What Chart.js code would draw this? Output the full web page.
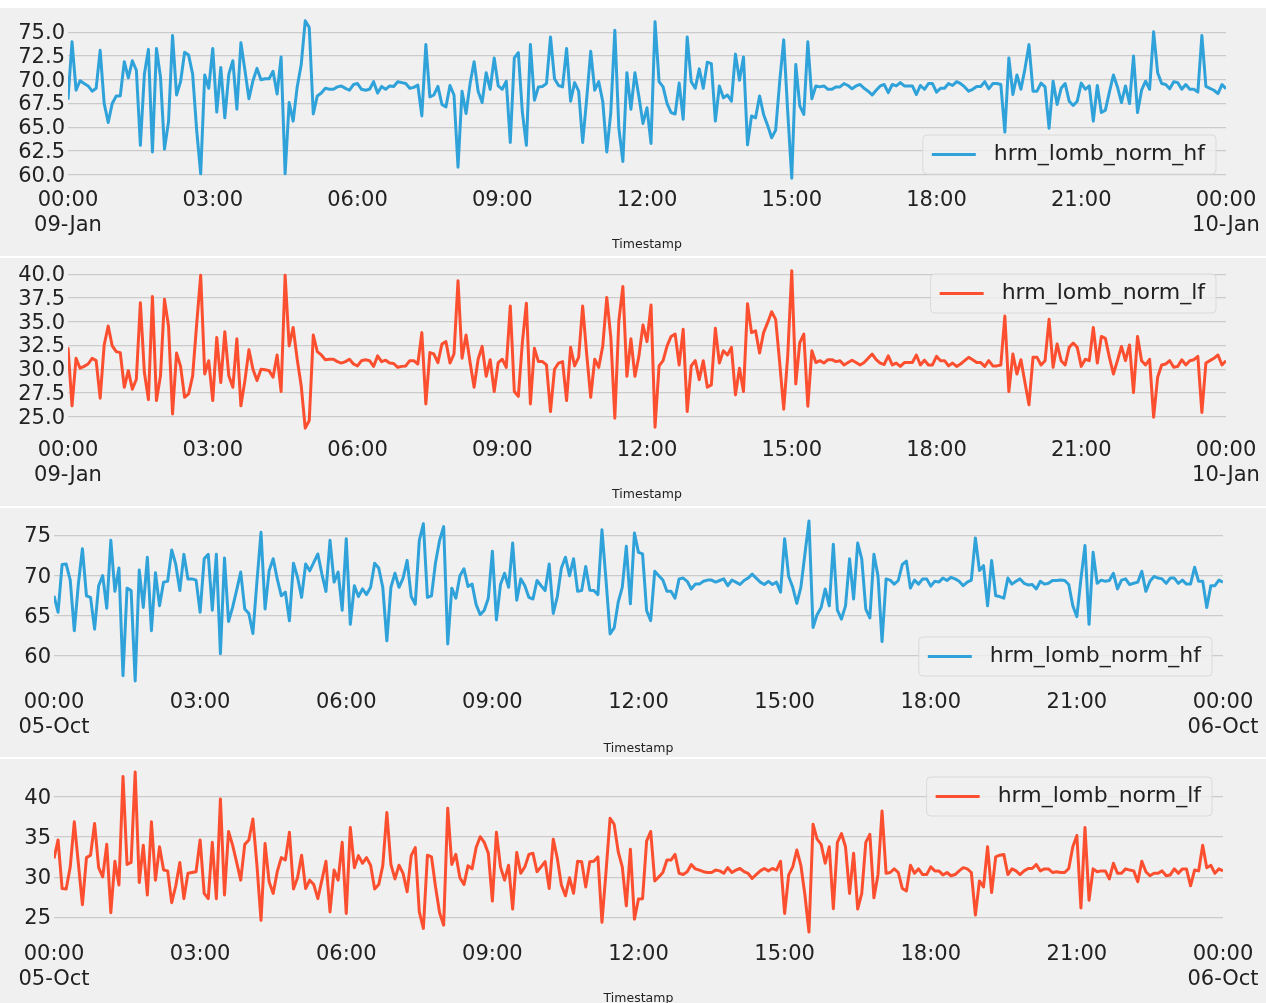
<!DOCTYPE html>
<html>
<head>
<meta charset="utf-8">
<script src="https://cdn.jsdelivr.net/npm/chart.js@4.4.1/dist/chart.umd.min.js"></script>
<style>
  html, body { margin: 0; padding: 0; background: #ffffff; }
  body { width: 1266px; height: 1003px; overflow: hidden; position: relative; }
  .panel { position: absolute; left: 0; width: 1266px; background: #f0f0f0; }
  canvas { display: block; }
</style>
</head>
<body>
<div class="panel" style="top:8px;height:248px"><canvas id="c1" width="1266" height="248"></canvas></div>
<div class="panel" style="top:258px;height:248px"><canvas id="c2" width="1266" height="248"></canvas></div>
<div class="panel" style="top:508px;height:249px"><canvas id="c3" width="1266" height="249"></canvas></div>
<div class="panel" style="top:759px;height:249px"><canvas id="c4" width="1266" height="249"></canvas></div>
<script>
// Normalised Lomb HF / LF power, one sample every 5 minutes from 00:00 to 00:00 next day
const hfJan = [
  67.9, 74.0, 68.9, 69.9, 69.6, 69.35, 68.8, 69.1, 73.1, 67.5,
  65.5, 67.5, 68.3, 68.3, 71.9, 70.2, 72.0, 71.0, 63.1, 70.6,
  73.2, 62.4, 73.3, 70.3, 62.7, 65.6, 74.65, 68.4, 69.8, 72.9,
  72.6, 70.6, 64.7, 60.1, 70.5, 69.1, 73.3, 66.6, 71.3, 66.0,
  70.6, 72.0, 66.9, 73.9, 71.0, 68.0, 69.9, 71.2, 70.0, 70.1,
  70.1, 70.9, 68.5, 72.4, 60.1, 67.6, 65.65, 69.25, 71.6, 76.2,
  75.5, 66.4, 68.3, 68.6, 69.1, 69.0, 69.0, 69.25, 69.35, 69.1,
  68.9, 69.5, 69.6, 69.0, 68.9, 69.0, 69.8, 68.6, 69.3, 69.0,
  69.35, 69.3, 69.8, 69.7, 69.6, 69.1, 69.2, 69.45, 66.2, 73.7,
  68.2, 68.4, 69.3, 67.4, 67.15, 69.4, 68.4, 60.8, 68.8, 66.45,
  69.6, 71.9, 68.8, 67.6, 70.75, 69.0, 72.3, 69.35, 69.0, 69.85,
  63.4, 72.3, 72.85, 66.6, 63.1, 73.7, 67.85, 69.25, 69.3, 69.6,
  74.5, 70.1, 69.4, 69.25, 73.3, 67.75, 69.7, 68.8, 63.4, 68.0,
  73.0, 68.9, 69.8, 67.7, 62.4, 66.6, 75.2, 64.9, 61.4, 70.75,
  66.9, 70.75, 68.2, 65.4, 67.05, 63.3, 76.1, 69.8, 69.25, 67.5,
  66.55, 66.4, 69.65, 65.85, 74.5, 69.8, 69.1, 71.15, 69.1, 71.85,
  71.7, 65.65, 69.35, 68.1, 68.4, 67.75, 72.7, 69.95, 72.4, 63.15,
  66.2, 66.0, 68.3, 66.35, 65.2, 63.9, 64.7, 69.8, 74.2, 66.6,
  59.65, 71.6, 67.25, 66.35, 74.0, 68.0, 69.35, 69.25, 69.35, 69.0,
  69.0, 69.25, 69.25, 69.6, 69.4, 69.05, 69.35, 69.5, 69.1, 68.8,
  68.4, 68.9, 69.35, 69.5, 68.65, 69.5, 69.35, 69.7, 69.35, 69.35,
  69.35, 68.45, 69.4, 69.0, 69.6, 69.6, 68.7, 69.1, 69.1, 69.6,
  69.4, 69.8, 69.6, 69.25, 68.8, 69.0, 69.3, 69.3, 69.8, 69.05,
  69.6, 69.6, 69.5, 64.5, 72.3, 68.45, 70.5, 69.0, 71.15, 73.7,
  68.8, 68.8, 69.65, 69.25, 64.9, 69.85, 67.4, 69.1, 69.6, 67.75,
  67.3, 67.75, 69.65, 69.0, 69.35, 65.65, 69.4, 66.55, 66.8, 68.7,
  70.5, 69.25, 67.6, 69.35, 67.5, 72.5, 66.55, 68.9, 69.85, 69.0,
  75.05, 70.75, 69.6, 69.5, 69.05, 69.8, 69.7, 69.0, 69.5, 69.0,
  69.0, 68.7, 74.65, 69.3, 69.1, 68.9, 68.55, 69.5, 69.05
];
const lfJan = [
  32.3, 26.15, 31.15, 30.1, 30.3, 30.55, 31.15, 30.9, 26.95, 32.55,
  34.55, 32.45, 31.85, 31.75, 28.1, 29.85, 27.9, 28.95, 37.0, 29.65,
  26.8, 37.65, 26.7, 29.3, 37.35, 34.55, 25.3, 31.7, 30.3, 27.05,
  27.4, 29.3, 34.75, 39.9, 29.5, 30.9, 26.7, 33.35, 28.6, 33.95,
  29.3, 28.1, 33.2, 26.15, 28.8, 32.05, 30.0, 28.8, 30.0, 29.95,
  29.85, 29.15, 31.5, 27.65, 39.9, 32.45, 34.4, 31.05, 28.25, 23.8,
  24.6, 33.6, 31.85, 31.5, 31.0, 31.05, 31.05, 30.8, 30.65, 30.8,
  31.05, 30.55, 30.35, 30.9, 31.0, 30.9, 30.3, 31.4, 30.8, 30.95,
  30.65, 30.6, 30.2, 30.3, 30.35, 30.9, 30.9, 30.55, 33.85, 26.35,
  31.75, 31.6, 30.7, 32.65, 32.9, 30.65, 31.6, 39.3, 31.15, 33.6,
  30.7, 28.1, 31.05, 32.4, 29.25, 31.0, 27.65, 30.7, 31.05, 30.2,
  36.65, 27.65, 27.15, 32.8, 36.95, 26.35, 32.2, 30.8, 30.8, 30.45,
  25.55, 30.0, 30.65, 30.8, 26.7, 32.3, 30.35, 31.25, 36.65, 31.6,
  27.05, 31.05, 30.2, 32.45, 37.55, 33.35, 24.85, 35.1, 38.7, 29.25,
  33.2, 29.25, 31.4, 34.65, 32.9, 36.75, 23.9, 30.35, 30.9, 32.45,
  33.45, 33.7, 30.45, 34.2, 25.55, 30.35, 30.9, 28.9, 30.9, 28.1,
  28.35, 34.3, 30.65, 31.95, 31.5, 32.3, 27.3, 30.1, 27.65, 36.9,
  33.85, 34.05, 31.7, 33.85, 34.9, 36.05, 35.25, 30.7, 25.8, 31.4,
  40.35, 28.45, 32.8, 33.7, 26.1, 31.95, 30.7, 30.9, 30.65, 31.0,
  31.0, 30.8, 30.9, 30.45, 30.7, 30.95, 30.7, 30.45, 30.7, 31.15,
  31.6, 31.0, 30.65, 30.5, 31.4, 30.45, 30.65, 30.3, 30.7, 30.7,
  30.7, 31.5, 30.45, 30.95, 30.45, 30.45, 31.35, 30.9, 30.9, 30.35,
  30.65, 30.3, 30.55, 30.9, 31.25, 31.0, 30.7, 30.7, 30.3, 30.9,
  30.35, 30.35, 30.45, 35.6, 27.65, 31.6, 29.5, 31.0, 28.6, 26.25,
  31.25, 31.25, 30.45, 30.9, 35.25, 30.2, 32.65, 30.9, 30.45, 32.3,
  32.75, 32.3, 30.3, 31.05, 30.9, 34.4, 30.65, 33.45, 33.25, 31.25,
  29.5, 30.9, 32.4, 30.9, 32.55, 27.55, 33.45, 30.9, 30.45, 31.05,
  24.95, 29.15, 30.45, 30.55, 30.9, 30.2, 30.3, 31.0, 30.45, 30.9,
  31.0, 31.35, 25.45, 30.65, 30.9, 31.15, 31.5, 30.45, 30.9
];
const hfOct = [
  67.5, 65.45, 71.4, 71.45, 69.45, 63.15, 68.95, 73.35, 67.5, 67.3,
  63.35, 68.75, 70.0, 65.95, 74.4, 68.05, 70.95, 57.55, 68.45, 68.15,
  56.9, 70.7, 66.05, 72.3, 63.15, 70.35, 66.25, 69.2, 69.3, 73.2,
  71.4, 68.15, 72.65, 69.6, 69.6, 69.45, 65.45, 72.1, 72.65, 65.7,
  72.65, 60.3, 72.2, 64.3, 66.05, 68.2, 70.45, 65.85, 65.3, 62.8,
  69.3, 75.4, 65.85, 70.6, 72.1, 69.6, 67.5, 67.95, 64.4, 71.55,
  69.8, 67.3, 71.45, 70.6, 71.65, 72.7, 70.2, 68.05, 74.4, 69.2,
  70.45, 65.7, 74.6, 63.95, 68.75, 67.4, 68.35, 67.65, 68.55, 71.55,
  70.95, 68.55, 61.9, 68.55, 70.3, 68.55, 69.7, 71.9, 67.4, 66.45,
  74.4, 76.45, 67.3, 67.5, 71.65, 74.4, 76.1, 61.5, 68.45, 67.2,
  70.0, 70.85, 68.65, 68.95, 66.4, 65.15, 65.7, 67.2, 73.05, 64.5,
  68.9, 70.3, 68.55, 74.05, 66.95, 69.6, 68.75, 67.3, 67.1, 69.4,
  68.75, 68.15, 71.45, 65.3, 67.4, 70.95, 72.3, 70.0, 72.1, 68.05,
  68.15, 71.15, 68.2, 68.15, 67.65, 75.7, 69.45, 62.75, 63.5, 66.7,
  68.55, 73.65, 66.5, 75.3, 72.9, 72.7, 65.65, 64.4, 70.55, 70.0,
  69.45, 68.05, 68.05, 67.2, 69.6, 69.7, 69.3, 68.35, 68.95, 68.95,
  69.3, 69.45, 69.45, 69.2, 69.4, 69.6, 68.75, 69.45, 69.2, 68.9,
  69.4, 69.7, 70.2, 69.7, 69.2, 68.9, 69.3, 68.9, 69.2, 67.95,
  74.6, 69.9, 68.55, 66.55, 68.55, 72.7, 76.8, 63.55, 65.15, 66.05,
  68.35, 66.25, 73.9, 65.7, 64.6, 66.25, 72.1, 67.1, 74.05, 72.1,
  65.85, 64.75, 72.65, 70.0, 61.8, 69.6, 69.45, 68.95, 69.4, 71.4,
  71.8, 68.45, 69.45, 68.95, 69.6, 69.6, 68.7, 69.3, 69.2, 69.7,
  69.4, 69.8, 69.6, 69.3, 68.75, 69.2, 69.45, 74.7, 70.65, 71.25,
  66.25, 71.9, 67.5, 67.4, 67.2, 69.7, 68.95, 69.3, 69.6, 69.05,
  68.85, 68.9, 68.35, 69.3, 68.95, 69.05, 69.4, 69.4, 69.45, 69.4,
  68.9, 66.25, 64.9, 69.6, 73.75, 63.95, 72.9, 69.05, 69.45, 69.3,
  69.4, 70.3, 68.35, 69.45, 69.6, 68.9, 69.05, 69.2, 70.55, 68.05,
  69.3, 69.9, 69.7, 69.6, 69.05, 69.7, 69.7, 69.05, 69.45, 68.95,
  68.95, 71.05, 69.3, 69.3, 66.05, 68.75, 68.75, 69.45, 69.2
];
const lfOct = [
  32.35, 34.65, 28.6, 28.55, 31.3, 36.9, 31.75, 26.6, 32.45, 32.75,
  36.7, 31.2, 30.05, 34.1, 25.6, 32.0, 29.05, 42.55, 31.6, 31.85,
  43.1, 29.35, 34.0, 27.8, 36.9, 29.65, 33.8, 30.9, 30.8, 26.85,
  28.95, 31.85, 27.35, 30.5, 30.6, 30.7, 34.65, 28.0, 27.35, 34.35,
  27.35, 39.75, 27.8, 35.7, 34.0, 31.85, 29.65, 34.1, 34.65, 37.25,
  31.5, 24.65, 34.2, 29.45, 28.0, 30.7, 32.45, 32.15, 35.6, 28.55,
  29.95, 32.75, 28.6, 29.65, 29.1, 27.35, 29.65, 32.0, 25.7, 30.9,
  29.65, 34.35, 25.5, 36.2, 31.2, 32.7, 31.75, 32.45, 31.5, 28.55,
  29.1, 31.45, 38.05, 31.6, 29.8, 31.5, 30.5, 28.2, 32.7, 33.7,
  25.7, 23.65, 32.75, 32.55, 28.8, 25.6, 24.05, 38.6, 31.6, 32.85,
  29.95, 29.1, 31.45, 31.05, 33.7, 35.05, 34.35, 33.0, 27.05, 35.6,
  31.3, 29.65, 31.5, 26.05, 33.1, 30.5, 31.3, 32.85, 33.0, 30.7,
  31.3, 31.95, 28.6, 34.75, 32.35, 29.05, 27.7, 29.95, 28.0, 32.0,
  31.95, 28.8, 31.95, 32.0, 32.55, 24.4, 30.7, 37.35, 36.6, 33.2,
  31.3, 26.45, 33.5, 24.8, 27.3, 27.35, 34.5, 35.7, 29.55, 30.05,
  30.6, 32.15, 32.15, 32.85, 30.5, 30.35, 30.7, 31.6, 31.05, 30.9,
  30.7, 30.6, 30.6, 30.9, 30.8, 30.5, 31.2, 30.6, 30.9, 31.1,
  30.7, 30.5, 29.85, 30.35, 30.8, 31.1, 30.8, 31.1, 30.9, 32.0,
  25.5, 30.3, 31.3, 33.4, 31.5, 27.8, 23.2, 36.6, 34.75, 34.1,
  31.75, 33.8, 26.1, 34.35, 35.45, 33.8, 28.0, 33.0, 26.05, 28.0,
  34.35, 35.35, 27.45, 30.3, 38.25, 30.5, 30.6, 31.05, 30.6, 28.6,
  28.3, 31.5, 30.5, 31.05, 30.35, 30.35, 31.3, 30.8, 30.8, 30.3,
  30.6, 30.2, 30.35, 30.8, 31.2, 31.05, 30.6, 25.3, 29.55, 28.8,
  33.8, 28.1, 32.55, 32.75, 32.85, 30.35, 31.05, 30.8, 30.35, 30.8,
  31.1, 31.1, 31.6, 30.8, 31.05, 31.05, 30.6, 30.7, 30.6, 30.6,
  31.1, 33.8, 35.2, 26.2, 36.2, 27.15, 31.05, 30.7, 30.8, 30.8,
  29.8, 31.75, 30.5, 30.5, 31.05, 30.9, 30.8, 29.45, 32.0, 30.7,
  30.2, 30.5, 30.5, 30.8, 30.2, 30.3, 31.05, 30.5, 31.05, 31.05,
  28.95, 30.9, 30.8, 34.0, 31.2, 31.5, 30.5, 31.05, 30.8
];

// Axis ticks
const sampleMinutes = 5;
const xTickMinutes = [0, 180, 360, 540, 720, 900, 1080, 1260, 1440];
const xTickLabels = ['00:00', '03:00', '06:00', '09:00', '12:00', '15:00', '18:00', '21:00', '00:00'];
const janDates = ['09-Jan', '10-Jan'];
const octDates = ['05-Oct', '06-Oct'];
const yTicksHfJan = [60, 62.5, 65, 67.5, 70, 72.5, 75];
const yTicksLfJan = [25, 27.5, 30, 32.5, 35, 37.5, 40];
const yTicksHfOct = [60, 65, 70, 75];
const yTicksLfOct = [25, 30, 35, 40];

const HF_COLOR = '#30a2da';
const LF_COLOR = '#fc4f30';
const TEXT = '#222222';
const FONT = "'DejaVu Sans', 'Liberation Sans', sans-serif";

Chart.defaults.font.family = FONT;
Chart.defaults.color = TEXT;

// Legend box drawn inside the plot area, matplotlib style
const insideLegend = {
  id: 'insideLegend',
  afterDraw(chart, args, opts) {
    const ds = chart.data.datasets[0];
    const ctx = chart.ctx;
    ctx.save();
    ctx.font = '22px ' + FONT;
    const tw = ctx.measureText(ds.label).width;
    const w = 71 + tw + 11;
    const h = opts.height;
    const x = opts.right - w;
    const y = opts.top;
    const r = 4;
    ctx.beginPath();
    ctx.moveTo(x + r, y);
    ctx.arcTo(x + w, y, x + w, y + h, r);
    ctx.arcTo(x + w, y + h, x, y + h, r);
    ctx.arcTo(x, y + h, x, y, r);
    ctx.arcTo(x, y, x + w, y, r);
    ctx.closePath();
    ctx.fillStyle = 'rgba(240,240,240,0.8)';
    ctx.fill();
    ctx.strokeStyle = '#d9d9d9';
    ctx.lineWidth = 1;
    ctx.stroke();
    const cy = y + h / 2;
    ctx.beginPath();
    ctx.moveTo(x + 9, cy);
    ctx.lineTo(x + 53, cy);
    ctx.strokeStyle = ds.borderColor;
    ctx.lineWidth = 3;
    ctx.stroke();
    ctx.fillStyle = TEXT;
    ctx.textBaseline = 'middle';
    ctx.textAlign = 'left';
    ctx.fillText(ds.label, x + 71, cy);
    ctx.restore();
  }
};

function makePanel(id, values, label, color, yTicks, decimals, dates, geo) {
  const lo = Math.min(...values), hi = Math.max(...values);
  const margin = (hi - lo) * 0.05;
  const canvas = document.getElementById(id);
  return new Chart(canvas, {
    type: 'line',
    data: {
      datasets: [{
        label: label,
        data: values.map((v, i) => ({ x: i * sampleMinutes, y: v })),
        borderColor: color,
        backgroundColor: color,
        borderWidth: 3,
        borderJoinStyle: 'round',
        borderCapStyle: 'butt',
        pointRadius: 0,
        tension: 0,
        fill: false
      }]
    },
    options: {
      responsive: false,
      animation: false,
      devicePixelRatio: 1,
      events: [],
      layout: { padding: { top: geo.top, right: canvas.width - geo.right, bottom: 0, left: 0 } },
      plugins: {
        legend: { display: false },
        tooltip: { enabled: false },
        insideLegend: geo.legend
      },
      scales: {
        x: {
          type: 'linear',
          min: 0,
          max: 1440,
          grid: { display: false, drawTicks: false },
          border: { display: false },
          afterBuildTicks: s => { s.ticks = xTickMinutes.map(v => ({ value: v })); },
          afterFit: s => { s.height = canvas.height - geo.bottom; s.paddingLeft = 0; s.paddingRight = 0; },
          ticks: {
            autoSkip: false,
            maxRotation: 0,
            padding: geo.tickPad,
            font: { size: 21, lineHeight: 1.2 },
            color: TEXT,
            callback: (v) => {
              const k = xTickMinutes.indexOf(v);
              if (k === 0) return [xTickLabels[k], dates[0]];
              if (k === xTickMinutes.length - 1) return [xTickLabels[k], dates[1]];
              return xTickLabels[k];
            }
          },
          title: {
            display: true,
            text: 'Timestamp',
            font: { size: 12.5 },
            color: TEXT,
            padding: { top: 0, bottom: geo.titlePad }
          }
        },
        y: {
          min: lo - margin,
          max: hi + margin,
          grid: { color: '#cbcbcb', lineWidth: 1.3, drawTicks: false },
          border: { display: false },
          afterBuildTicks: s => { s.ticks = yTicks.map(v => ({ value: v })); },
          afterFit: s => { s.width = geo.left; s.paddingTop = 0; s.paddingBottom = 0; },
          ticks: {
            autoSkip: false,
            padding: 3,
            labelOffset: 1.5,
            font: { size: 21 },
            color: TEXT,
            callback: v => v.toFixed(decimals)
          }
        }
      }
    },
    plugins: [insideLegend]
  });
}

makePanel('c1', hfJan, 'hrm_lomb_norm_hf', HF_COLOR, yTicksHfJan, 1, janDates,
  { left: 68, right: 1226, top: 5, bottom: 178, tickPad: 2, titlePad: 3.5,
    legend: { right: 1216, top: 127, height: 39 } });
makePanel('c2', lfJan, 'hrm_lomb_norm_lf', LF_COLOR, yTicksLfJan, 1, janDates,
  { left: 68, right: 1226, top: 5, bottom: 178, tickPad: 2, titlePad: 3.5,
    legend: { right: 1216, top: 16, height: 39 } });
makePanel('c3', hfOct, 'hrm_lomb_norm_hf', HF_COLOR, yTicksHfOct, 0, octDates,
  { left: 54, right: 1223, top: 5, bottom: 181, tickPad: 1, titlePad: 0.5,
    legend: { right: 1212, top: 129, height: 39 } });
makePanel('c4', lfOct, 'hrm_lomb_norm_lf', LF_COLOR, yTicksLfOct, 0, octDates,
  { left: 54, right: 1223, top: 5, bottom: 181, tickPad: 1.5, titlePad: 1.5,
    legend: { right: 1212, top: 18, height: 39 } });
</script>
</body>
</html>
